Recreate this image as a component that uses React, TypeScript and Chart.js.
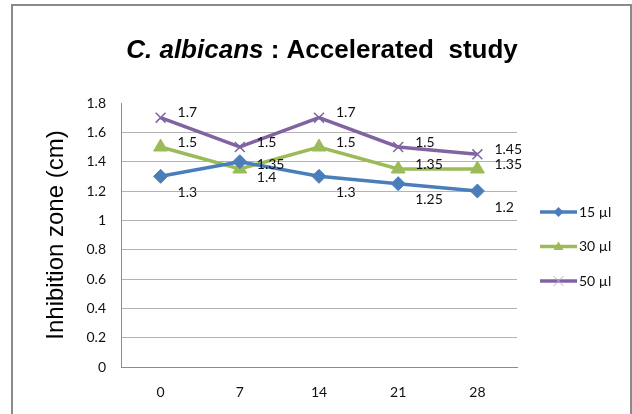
import React, { useEffect, useRef } from "react";
import { Chart, registerables } from "chart.js";

Chart.register(...registerables);

const days = ["0", "7", "14", "21", "28"];
const s15 = [1.3, 1.4, 1.3, 1.25, 1.2];
const s30 = [1.5, 1.35, 1.5, 1.35, 1.35];
const s50 = [1.7, 1.5, 1.7, 1.5, 1.45];
const seriesNames = ["15 µl", "30 µl", "50 µl"];
const yTicks = [0, 0.2, 0.4, 0.6, 0.8, 1, 1.2, 1.4, 1.6, 1.8];

const colors = ["#4a7ebb", "#9bbb59", "#8064a2"];
const pointStyles = ["rectRot", "triangle", "crossRot"];
const labelOffsets = [
  { dx: 17, dy: 16 },
  { dx: 17, dy: -5 },
  { dx: 17, dy: -5 },
];

const labelFont = '14px Lato, "Open Sans", sans-serif';

const titlePlugin = {
  id: "customTitle",
  afterDraw(chart: any) {
    const ctx = chart.ctx;
    ctx.save();
    const p1 = "C. albicans";
    const p2 = " : Accelerated  study";
    const f1 = 'italic bold 26px "Liberation Sans", Arial, sans-serif';
    const f2 = 'bold 26px "Liberation Sans", Arial, sans-serif';
    ctx.font = f1;
    const w1 = ctx.measureText(p1).width;
    ctx.font = f2;
    const w2 = ctx.measureText(p2).width;
    const cx = 322;
    const x0 = cx - (w1 + w2) / 2;
    const y = 58;
    ctx.fillStyle = "#000";
    ctx.textBaseline = "alphabetic";
    ctx.textAlign = "left";
    ctx.font = f1;
    ctx.fillText(p1, x0, y);
    ctx.font = f2;
    ctx.fillText(p2, x0 + w1, y);
    ctx.restore();
  },
};

const dataLabelPlugin = {
  id: "dataLabels",
  afterDatasetsDraw(chart: any) {
    const ctx = chart.ctx;
    ctx.save();
    ctx.font = labelFont;
    ctx.fillStyle = "#111";
    ctx.textAlign = "left";
    ctx.textBaseline = "middle";
    chart.data.datasets.forEach((ds: any, i: number) => {
      const meta = chart.getDatasetMeta(i);
      const off = labelOffsets[i];
      meta.data.forEach((el: any, j: number) => {
        const v = ds.data[j];
        ctx.fillText(String(v), el.x + off.dx, el.y + off.dy);
      });
    });
    ctx.restore();
  },
};

const legendPlugin = {
  id: "customLegend",
  afterDraw(chart: any) {
    const ctx = chart.ctx;
    const area = chart.chartArea;
    ctx.save();
    chart.data.datasets.forEach((ds: any, i: number) => {
      const y = 212 + i * 34.5;
      const x1 = area.right + 23;
      const x2 = x1 + 37;
      ctx.strokeStyle = colors[i];
      ctx.lineWidth = 3.5;
      ctx.beginPath();
      ctx.moveTo(x1, y);
      ctx.lineTo(x2, y);
      ctx.stroke();
      const mx = (x1 + x2) / 2;
      ctx.fillStyle = colors[i];
      ctx.lineWidth = 1;
      const r = 5;
      ctx.beginPath();
      if (pointStyles[i] === "rectRot") {
        ctx.moveTo(mx, y - r);
        ctx.lineTo(mx + r, y);
        ctx.lineTo(mx, y + r);
        ctx.lineTo(mx - r, y);
        ctx.closePath();
        ctx.fill();
      } else if (pointStyles[i] === "triangle") {
        ctx.moveTo(mx, y - r);
        ctx.lineTo(mx + r, y + r * 0.7);
        ctx.lineTo(mx - r, y + r * 0.7);
        ctx.closePath();
        ctx.fill();
      } else {
        ctx.strokeStyle = "#b7a6d0";
        ctx.moveTo(mx - r, y - r);
        ctx.lineTo(mx + r, y + r);
        ctx.moveTo(mx + r, y - r);
        ctx.lineTo(mx - r, y + r);
        ctx.stroke();
      }
      ctx.fillStyle = "#111";
      ctx.font = labelFont;
      ctx.textAlign = "left";
      ctx.textBaseline = "middle";
      ctx.fillText(seriesNames[i], x2 + 2, y);
    });
    ctx.restore();
  },
};

export default function App() {
  const ref = useRef<HTMLCanvasElement | null>(null);
  useEffect(() => {
    if (!ref.current) return;
    const series = [s15, s30, s50];
    const chart = new Chart(ref.current, {
      type: "line",
      data: {
        labels: days,
        datasets: series.map((d, i) => ({
          label: seriesNames[i],
          data: d,
          borderColor: colors[i],
          backgroundColor: colors[i],
          borderWidth: 3.5,
          pointStyle: pointStyles[i] as any,
          pointRadius: i === 1 ? 8 : 7,
          pointBorderWidth: i === 2 ? 1.5 : 1,
          pointBackgroundColor: colors[i],
          pointBorderColor: colors[i],
          tension: 0,
        })),
      },
      options: {
        responsive: false,
        animation: false,
        layout: { padding: { left: 38, top: 103, right: 115, bottom: 0 } },
        plugins: {
          legend: { display: false },
          title: { display: false },
          tooltip: { enabled: false },
        },
        scales: {
          x: {
            offset: true,
            grid: { display: false, drawTicks: false },
            border: { display: true, color: "#8c8c8c", width: 1 },
            ticks: {
              padding: 17,
              color: "#111",
              font: { family: 'Lato, "Open Sans", sans-serif', size: 14 },
            },
            afterFit: (s: any) => {
              s.height = 47;
            },
          },
          y: {
            min: 0,
            max: 1.8,
            afterBuildTicks: (s: any) => {
              s.ticks = yTicks.map((v) => ({ value: v }));
            },
            grid: {
              drawTicks: false,
              color: (c: any) =>
                c.tick && c.tick.value === 1.8 ? "rgba(0,0,0,0)" : "#b3b3b3",
            },
            border: { display: true, color: "#8c8c8c", width: 1 },
            ticks: {
              padding: 15,
              color: "#111",
              font: { family: 'Lato, "Open Sans", sans-serif', size: 14 },
              callback: (v: any) => String(Number(Number(v).toFixed(1))),
            },
            title: {
              display: true,
              text: "Inhibition zone (cm)",
              color: "#000",
              font: { family: '"Liberation Sans", Arial, sans-serif', size: 24 },
              padding: { top: 4, bottom: 0 },
            },
            afterFit: (s: any) => {
              s.width = 83;
            },
          },
        },
      },
      plugins: [titlePlugin, dataLabelPlugin, legendPlugin],
    });
    return () => chart.destroy();
  }, []);

  return (
    <div
      style={{
        position: "fixed",
        left: 0,
        top: 0,
        width: 632,
        height: 414,
        background: "#fff",
        overflow: "hidden",
      }}
    >
      <div
        style={{
          position: "absolute",
          left: 11,
          top: 4,
          width: 617,
          height: 430,
          border: "2px solid #8a8a8a",
        }}
      />
      <canvas
        ref={ref}
        width={632}
        height={414}
        style={{ position: "absolute", left: 0, top: 0, width: 632, height: 414 }}
      />
    </div>
  );
}
